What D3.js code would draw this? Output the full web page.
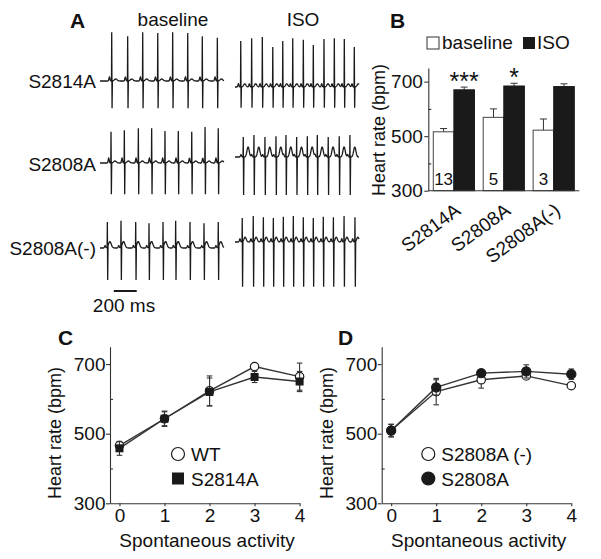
<!DOCTYPE html>
<html>
<head>
<meta charset="utf-8">
<script src="https://cdn.jsdelivr.net/npm/d3@7"></script>
<style>
  body { margin: 0; background: #fff; }
  text { font-family: "Liberation Sans", Arial, sans-serif; fill: #111; }
  .axis path, .axis line { stroke: #333; stroke-width: 1.1; }
  .axis text { font-size: 19px; fill: #111; }
</style>
</head>
<body>
<svg id="fig" width="601" height="559"></svg>
<script>
// ---------- data ----------
// panel A: beat times (ms) read off the traces, and R peak heights (mV)
const rowLabels = ["S2814A", "S2808A", "S2808A(-)"]
const beatsBase = [
  [102, 241, 372, 503, 633, 764, 891, 1022],
  [96, 212, 334, 450, 566, 682, 799, 915, 1030],
  [64, 183, 311, 427, 549, 659, 784, 906, 1030]
]
const beatsIso = [
  [50, 145, 238, 329, 416, 503, 595, 682, 775, 865, 952, 1039],
  [72, 165, 261, 357, 444, 537, 630, 717, 812, 908, 1001],
  [63, 159, 247, 334, 421, 508, 595, 682, 769, 857, 950, 1045]
]
const rBase = [
  [1.22, 1.12, 1.22, 1.2, 1.22, 1.2, 1.12, 1.08],
  [0.78, 0.82, 0.87, 0.87, 0.8, 0.8, 0.78, 0.9, 0.87],
  [0.65, 0.68, 0.65, 0.62, 0.65, 0.68, 0.65, 0.62, 0.65]
]
const rIso = [
  [1.15, 1.22, 1.25, 1.0, 1.15, 1.22, 1.18, 1.05, 1.2, 1.22, 1.2, 1.0],
  [0.5, 0.55, 0.5, 0.52, 0.55, 0.5, 0.52, 0.55, 0.5, 0.52, 0.55],
  [0.6, 0.65, 0.62, 0.6, 0.63, 0.65, 0.62, 0.6, 0.63, 0.62, 0.65, 0.62]
]
const sBase = [-0.68, -0.78, -0.8]
const sIso = [-0.52, -0.95, -1.12]
const pWave = [[0.1, 0.08], [0.12, 0.06], [0.06, 0.08]]      // [baseline, ISO]
const tWave = [[0.05, 0.08], [0.05, 0.25], [0.16, 0.12]]

// panel B
const strains = ["S2814A", "S2808A", "S2808A(-)"]
const conditions = ["baseline", "ISO"]
const hrBaseline = [516, 569, 522]
const hrBaselineErr = [12, 31, 41]
const hrIso = [670, 684, 682]
const hrIsoErr = [10, 10, 10]
const nMice = ["13", "5", "3"]
const stars = ["***", "*", ""]

// panels C and D
const activity = [0, 1, 2, 3, 4]
const hrWT = [466, 543, 623, 693, 664]
const hrWTErr = [10, 20, 43, 8, 39]
const hrS2814A = [458, 543, 620, 663, 650]
const hrS2814AErr = [20, 22, 40, 16, 29]
const hrS2808Aminus = [509, 621, 655, 666, 638]
const hrS2808AminusErr = [18, 38, 24, 8, 8]
const hrS2808A = [509, 633, 674, 679, 671]
const hrS2808AErr = [18, 22, 8, 19, 15]

const svg = d3.select("#fig")
const ink = "#1a1a1a"

function panelLetter(t, x, y) {
  svg.append("text").attr("x", x).attr("y", y).text(t)
    .style("font-size", "21px").style("font-weight", "bold")
}

// ---------- A: ECG traces ----------
function ecgPoints(beats, rAmp, sAmp, pAmp, tAmp, tDelay, tWidth) {
  const smooth = t => d3.sum(beats, b =>
    pAmp * Math.exp(-((t - b + 20) ** 2) / 40) +
    tAmp * Math.exp(-((t - b - tDelay) ** 2) / (2 * tWidth * tWidth)))
  const pts = []
  for (let t = 0; t <= 1080; t += 2) {
    if (beats.some(b => t > b - 3 && t < b + 7)) continue
    pts.push([t, smooth(t)])
  }
  beats.forEach((b, i) => {
    pts.push([b - 2, smooth(b - 2)], [b, rAmp[i]], [b + 3, sAmp], [b + 6, smooth(b + 6)])
  })
  return pts.sort((a, b) => a[0] - b[0])
}

function draw_traces() {
  panelLetter("A", 70, 28)
  svg.append("text").attr("x", 173).attr("y", 26).attr("text-anchor", "middle")
    .style("font-size", "19px").text("baseline")
  svg.append("text").attr("x", 303).attr("y", 26).attr("text-anchor", "middle")
    .style("font-size", "19px").text("ISO")

  const xBase = d3.scaleLinear().domain([0, 1080]).range([100, 224])
  const xIso = d3.scaleLinear().domain([0, 1080]).range([235, 359])
  const rowBaseY = [81, 163, 248]
  const rowIsoY = [87, 157, 242]
  const labelY = [88, 171, 255]
  const tDelay = [[35, 35], [35, 42], [22, 25]]

  rowLabels.forEach((lab, i) => {
    svg.append("text").attr("x", 96).attr("y", labelY[i]).attr("text-anchor", "end")
      .style("font-size", "19px").text(lab)

    const yb = d3.scaleLinear().domain([-1, 1]).range([rowBaseY[i] + 40, rowBaseY[i] - 40])
    const yi = d3.scaleLinear().domain([-1, 1]).range([rowIsoY[i] + 40, rowIsoY[i] - 40])

    const lineB = d3.line().x(d => xBase(d[0])).y(d => yb(d[1]))
    const lineI = d3.line().x(d => xIso(d[0])).y(d => yi(d[1]))

    svg.append("path")
      .attr("d", lineB(ecgPoints(beatsBase[i], rBase[i], sBase[i], pWave[i][0], tWave[i][0], tDelay[i][0], 12)))
      .attr("fill", "none").attr("stroke", ink).attr("stroke-width", 1.3)
    svg.append("path")
      .attr("d", lineI(ecgPoints(beatsIso[i], rIso[i], sIso[i], pWave[i][1], tWave[i][1], tDelay[i][1], 10)))
      .attr("fill", "none").attr("stroke", ink).attr("stroke-width", 1.3)
  })

  // 200 ms scale bar
  svg.append("line").attr("x1", xBase(120)).attr("x2", xBase(320)).attr("y1", 291).attr("y2", 291)
    .attr("stroke", ink).attr("stroke-width", 2)
  svg.append("text").attr("x", 124).attr("y", 312).attr("text-anchor", "middle")
    .style("font-size", "19px").text("200 ms")
}

// ---------- B: bar graph ----------
function draw_bars() {
  panelLetter("B", 390, 28)

  const yScale = d3.scaleLinear().domain([300, 750]).range([190.7, 68])
  const xScale = d3.scaleBand().domain(strains).range([428.3, 579.3])
    .paddingInner(0.175).paddingOuter(0.1)
  const xSub = d3.scaleBand().domain(conditions).range([0, xScale.bandwidth()])

  // legend
  svg.append("rect").attr("x", 427).attr("y", 37).attr("width", 12).attr("height", 12)
    .attr("fill", "#fff").attr("stroke", "#333")
  svg.append("text").attr("x", 442).attr("y", 49).style("font-size", "19px").text("baseline")
  svg.append("rect").attr("x", 523).attr("y", 37).attr("width", 12).attr("height", 12)
    .attr("fill", ink)
  svg.append("text").attr("x", 537).attr("y", 49).style("font-size", "19px").text("ISO")

  const vals = strains.map((s, i) => [
    { s, c: "baseline", v: hrBaseline[i], e: hrBaselineErr[i] },
    { s, c: "ISO", v: hrIso[i], e: hrIsoErr[i] }
  ]).flat()

  // error bars (upwards only)
  const eb = svg.selectAll(".eb").data(vals).enter().append("g").attr("class", "eb")
  eb.append("line")
    .attr("x1", d => xScale(d.s) + xSub(d.c) + xSub.bandwidth() / 2)
    .attr("x2", d => xScale(d.s) + xSub(d.c) + xSub.bandwidth() / 2)
    .attr("y1", d => yScale(d.v)).attr("y2", d => yScale(d.v + d.e))
    .attr("stroke", "#333")
  eb.append("line")
    .attr("x1", d => xScale(d.s) + xSub(d.c) + xSub.bandwidth() / 2 - 3.5)
    .attr("x2", d => xScale(d.s) + xSub(d.c) + xSub.bandwidth() / 2 + 3.5)
    .attr("y1", d => yScale(d.v + d.e)).attr("y2", d => yScale(d.v + d.e))
    .attr("stroke", "#333")

  svg.selectAll(".bar").data(vals).enter().append("rect")
    .attr("class", "bar")
    .attr("x", d => xScale(d.s) + xSub(d.c))
    .attr("y", d => yScale(d.v))
    .attr("width", xSub.bandwidth())
    .attr("height", d => yScale(300) - yScale(d.v))
    .attr("fill", d => d.c == "ISO" ? ink : "#fff")
    .attr("stroke", d => d.c == "ISO" ? ink : "#444")
    .attr("stroke-width", 1)

  // n inside white bars, stars above ISO bars
  strains.forEach((s, i) => {
    svg.append("text").attr("x", xScale(s) + xSub("baseline") + xSub.bandwidth() / 2)
      .attr("y", 185).attr("text-anchor", "middle").style("font-size", "17px").text(nMice[i])
    svg.append("text").attr("x", xScale(s) + xSub("ISO") + xSub.bandwidth() / 2)
      .attr("y", yScale(hrIso[i] + hrIsoErr[i]) + 3).attr("text-anchor", "middle")
      .style("font-size", "25px").text(stars[i])
  })

  svg.append("g").attr("class", "axis")
    .attr("transform", "translate(428.3,0)")
    .call(d3.axisLeft(yScale).tickValues([300, 500, 700]).tickSize(4).tickSizeOuter(0).tickPadding(1.5))
  svg.append("g").attr("class", "axis")
    .attr("transform", "translate(428.3,0)")
    .call(d3.axisLeft(yScale).tickValues([400, 600]).tickSize(-3).tickFormat(""))
    .select(".domain").remove()
  svg.append("line").attr("class", "axis").attr("x1", 428.3).attr("x2", 579.3)
    .attr("y1", 190.7).attr("y2", 190.7).attr("stroke", "#333").attr("stroke-width", 1.1)

  strains.forEach(s => {
    svg.append("text")
      .attr("transform", `translate(${xScale(s) + xScale.bandwidth() / 2 + 8},213) rotate(-36)`)
      .attr("text-anchor", "end").style("font-size", "19px").text(s)
  })

  svg.append("text").attr("transform", "translate(385,130) rotate(-90)")
    .attr("text-anchor", "middle").style("font-size", "18px").text("Heart rate (bpm)")
}

// ---------- C and D: line plots ----------
function draw_lines(opt) {
  panelLetter(opt.letter, opt.letterX, 345)

  const xScale = d3.scaleLinear().domain([-0.21, 4]).range([opt.x0, opt.x0 + 189.6])
  const yScale = d3.scaleLinear().domain([300, 750]).range([503.3, 346.7])

  const g = svg.append("g")
  g.append("g").attr("class", "axis").attr("transform", `translate(${opt.x0},0)`)
    .call(d3.axisLeft(yScale).tickValues([300, 500, 700]).tickSize(4).tickSizeOuter(0).tickPadding(0.5))
  g.append("g").attr("class", "axis").attr("transform", `translate(${opt.x0},0)`)
    .call(d3.axisLeft(yScale).tickValues([400, 600]).tickSize(-3).tickFormat(""))
    .select(".domain").remove()
  g.append("g").attr("class", "axis").attr("transform", "translate(0,503.3)")
    .call(d3.axisBottom(xScale).tickValues(activity).tickFormat(d3.format("d"))
      .tickSize(3).tickSizeOuter(0).tickPadding(2))

  g.append("text").attr("x", opt.x0 + 97).attr("y", 547).attr("text-anchor", "middle")
    .style("font-size", "19px").text("Spontaneous activity")
  g.append("text").attr("transform", `translate(${opt.x0 - 49},433) rotate(-90)`)
    .attr("text-anchor", "middle").style("font-size", "18px").text("Heart rate (bpm)")

  const line = d3.line().x((d, i) => xScale(activity[i])).y(d => yScale(d))

  opt.series.forEach(s => {
    const sg = g.append("g")
    sg.append("path").attr("d", line(s.values)).attr("fill", "none")
      .attr("stroke", "#333").attr("stroke-width", 1.4)
    const eb = sg.selectAll(".err").data(s.values).enter().append("g")
    eb.append("line")
      .attr("x1", (d, i) => xScale(activity[i])).attr("x2", (d, i) => xScale(activity[i]))
      .attr("y1", (d, i) => yScale(d - s.err[i])).attr("y2", (d, i) => yScale(d + s.err[i]))
      .attr("stroke", "#333").attr("stroke-width", 1.1)
    ;[-1, 1].forEach(sign => {
      eb.append("line")
        .attr("x1", (d, i) => xScale(activity[i]) - 2.8).attr("x2", (d, i) => xScale(activity[i]) + 2.8)
        .attr("y1", (d, i) => yScale(d + sign * s.err[i])).attr("y2", (d, i) => yScale(d + sign * s.err[i]))
        .attr("stroke", "#333").attr("stroke-width", 1.1)
    })
    s.values.forEach((d, i) => {
      const cx = xScale(activity[i]), cy = yScale(d)
      if (s.shape == "square") {
        sg.append("rect").attr("x", cx - 4).attr("y", cy - 4).attr("width", 8).attr("height", 8)
          .attr("fill", ink)
      } else {
        sg.append("circle").attr("cx", cx).attr("cy", cy).attr("r", s.filled ? 4.6 : 4.2)
          .attr("fill", s.filled ? ink : "#fff").attr("stroke", ink).attr("stroke-width", 1.2)
      }
    })
  })

  // legend
  opt.series.forEach((s, k) => {
    const ly = 454 + k * 24.5
    const lx = opt.legendX
    if (s.shape == "square") {
      g.append("rect").attr("x", lx - 6).attr("y", ly - 6).attr("width", 12).attr("height", 12).attr("fill", ink)
    } else {
      g.append("circle").attr("cx", lx).attr("cy", ly).attr("r", 6.5)
        .attr("fill", s.filled ? ink : "#fff").attr("stroke", ink).attr("stroke-width", 1.2)
    }
    g.append("text").attr("x", lx + 13).attr("y", ly + 7).style("font-size", "19px").text(s.name)
  })
}

draw_traces()
draw_bars()
draw_lines({
  letter: "C", letterX: 58, x0: 110, legendX: 178,
  series: [
    { name: "WT", values: hrWT, err: hrWTErr, shape: "circle", filled: false },
    { name: "S2814A", values: hrS2814A, err: hrS2814AErr, shape: "square" }
  ]
})
draw_lines({
  letter: "D", letterX: 338, x0: 381.7, legendX: 428.3,
  series: [
    { name: "S2808A (-)", values: hrS2808Aminus, err: hrS2808AminusErr, shape: "circle", filled: false },
    { name: "S2808A", values: hrS2808A, err: hrS2808AErr, shape: "circle", filled: true }
  ]
})
</script>
</body>
</html>
